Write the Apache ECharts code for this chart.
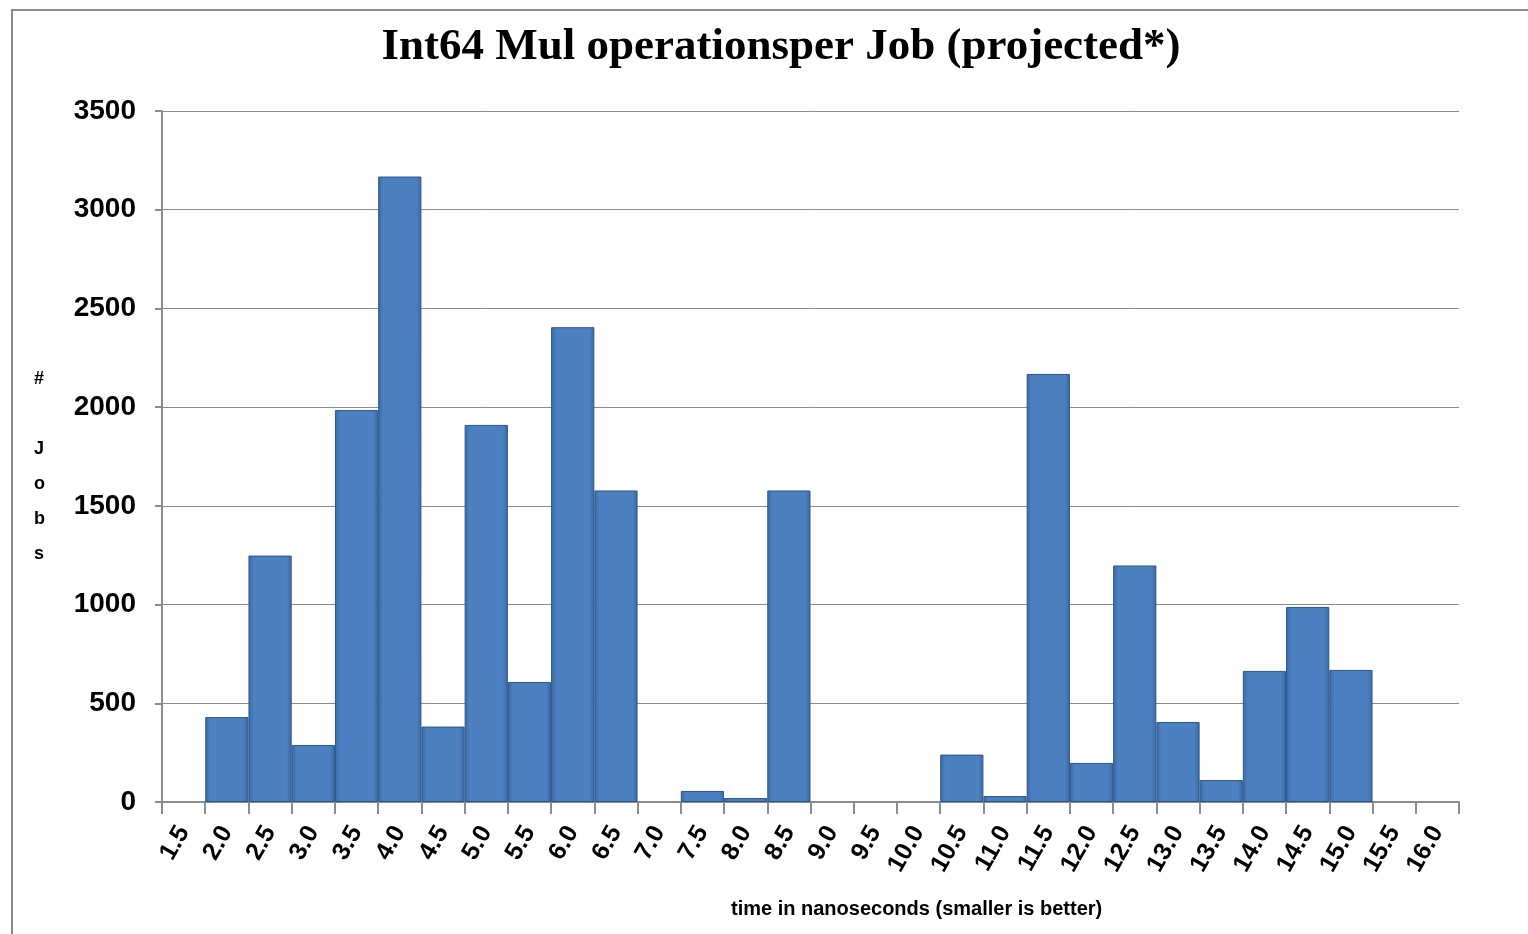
<!DOCTYPE html>
<html>
<head>
<meta charset="utf-8">
<script src="https://cdn.jsdelivr.net/npm/echarts@6/dist/echarts.min.js"></script>
<style>
  html, body { margin: 0; padding: 0; background: #fff; }
  #chart { width: 1528px; height: 934px; }
</style>
</head>
<body>
<div id="chart"></div>
<script>
// time buckets (ns)
var timeBuckets = ['1.5', '2.0', '2.5', '3.0', '3.5', '4.0', '4.5', '5.0', '5.5', '6.0',
  '6.5', '7.0', '7.5', '8.0', '8.5', '9.0', '9.5', '10.0', '10.5', '11.0',
  '11.5', '12.0', '12.5', '13.0', '13.5', '14.0', '14.5', '15.0', '15.5', '16.0'];
// number of jobs per bucket
var jobCounts = [0, 430, 1248, 289, 1985, 3168, 382, 1910, 608, 2405,
  1578, 0, 56, 20, 1578, 0, 0, 0, 240, 30,
  2168, 198, 1198, 405, 111, 664, 988, 669, 0, 0];

var chart = echarts.init(document.getElementById('chart'));
var option = {
  animation: false,
  backgroundColor: '#fff',
  title: {
    text: 'Int64 Mul operationsper Job (projected*)',
    left: 776,
    top: 20,
    textAlign: 'center',
    textStyle: {
      fontFamily: 'Liberation Serif',
      fontWeight: 'bold',
      fontSize: 45,
      color: '#000'
    }
  },
  graphic: [
    {
      type: 'rect',
      shape: { x: 12, y: 10, width: 1530, height: 940 },
      style: { fill: 'none', stroke: '#8c8c8c', lineWidth: 2 },
      silent: true
    },
    {
      type: 'text',
      left: 34,
      top: 362,
      style: {
        text: '#\n\nJ\no\nb\ns',
        font: 'bold 18px "Liberation Sans"',
        lineHeight: 35,
        fill: '#000',
        align: 'center'
      }
    },
    {
      type: 'text',
      left: 731,
      top: 899,
      style: {
        text: 'time in nanoseconds (smaller is better)',
        font: 'bold 20px "Liberation Sans"',
        fill: '#000'
      }
    }
  ],
  grid: {
    left: 162,
    right: 69,
    top: 111,
    bottom: 132,
    containLabel: false
  },
  xAxis: {
    type: 'category',
    data: timeBuckets,
    boundaryGap: true,
    axisLine: { lineStyle: { color: '#8c8c8c', width: 2 } },
    axisTick: { show: true, length: 12, lineStyle: { color: '#8c8c8c', width: 2 } },
    axisLabel: {
      interval: 0,
      rotate: 60,
      margin: 26,
      color: '#000',
      fontFamily: 'Liberation Sans',
      fontWeight: 'bold',
      fontSize: 25
    }
  },
  yAxis: {
    type: 'value',
    min: 0,
    max: 3500,
    interval: 500,
    axisLine: { show: true, lineStyle: { color: '#8c8c8c', width: 2 } },
    axisTick: { show: true, length: 7, lineStyle: { color: '#8c8c8c', width: 2 } },
    splitLine: { lineStyle: { color: '#8c8c8c', width: 1 } },
    axisLabel: {
      margin: 26,
      color: '#000',
      fontFamily: 'Liberation Sans',
      fontWeight: 'bold',
      fontSize: 28,
      formatter: function (v) { return String(v); }
    }
  },
  series: [
    {
      type: 'bar',
      // empty buckets draw nothing (no border sliver on the axis)
      data: jobCounts.map(function (v) { return v === 0 ? '-' : v; }),
      barCategoryGap: '0%',
      itemStyle: {
        color: {
          type: 'linear', x: 0, y: 0, x2: 1, y2: 0,
          colorStops: [
            { offset: 0, color: '#3b6aa3' },
            { offset: 0.12, color: '#4c80c0' },
            { offset: 0.88, color: '#4c80c0' },
            { offset: 1, color: '#3b6aa3' }
          ]
        },
        borderColor: '#2c5688',
        borderWidth: 1
      }
    }
  ]
};
chart.setOption(option);
window.addEventListener('resize', chart.resize);
</script>
</body>
</html>
